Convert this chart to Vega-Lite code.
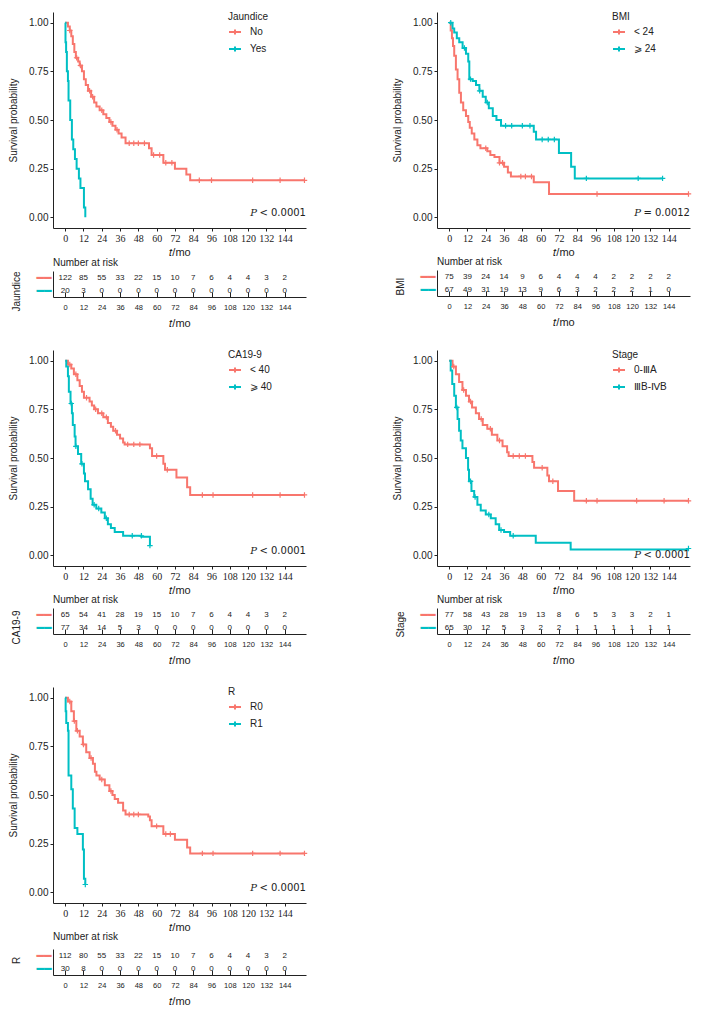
{
"$schema": "https://vega.github.io/schema/vega-lite/v6.json",
"padding": {"left": 8, "top": 12, "right": 5, "bottom": 5},
"config": {
  "view": {"stroke": null},
  "font": "Liberation Sans",
  "axis": {"grid": false, "domainColor": "#222", "tickColor": "#222", "labelColor": "#222", "titleColor": "#222", "titleFontWeight": "normal", "labelFontSize": 10, "titleFontSize": 10, "labelFont": "Liberation Sans", "titleFont": "Liberation Sans", "labelOverlap": false},
  "legend": {"titleFontWeight": "normal", "titleFontSize": 10, "labelFontSize": 10, "titleColor": "#222", "labelColor": "#222", "labelFont": "Liberation Sans", "titleFont": "Liberation Sans"},
  "title": {"fontWeight": "normal", "fontSize": 10, "anchor": "start", "offset": 3, "frame": "group", "color": "#222", "font": "Liberation Sans"}
},
"datasets": {
"km": [
{"panel":"Jaundice","group":"No","t":0,"s":1},{"panel":"Jaundice","group":"No","t":1.8,"s":0.98},{"panel":"Jaundice","group":"No","t":3,"s":0.96},{"panel":"Jaundice","group":"No","t":4,"s":0.93},{"panel":"Jaundice","group":"No","t":5,"s":0.89},{"panel":"Jaundice","group":"No","t":6,"s":0.85},{"panel":"Jaundice","group":"No","t":7,"s":0.82},{"panel":"Jaundice","group":"No","t":8.5,"s":0.8},{"panel":"Jaundice","group":"No","t":9.5,"s":0.78},{"panel":"Jaundice","group":"No","t":11,"s":0.75},{"panel":"Jaundice","group":"No","t":12.3,"s":0.71},{"panel":"Jaundice","group":"No","t":13.5,"s":0.68},{"panel":"Jaundice","group":"No","t":15,"s":0.65},{"panel":"Jaundice","group":"No","t":17,"s":0.62},{"panel":"Jaundice","group":"No","t":19,"s":0.59},{"panel":"Jaundice","group":"No","t":20.5,"s":0.57},{"panel":"Jaundice","group":"No","t":22.6,"s":0.55},{"panel":"Jaundice","group":"No","t":25,"s":0.53},{"panel":"Jaundice","group":"No","t":27,"s":0.51},{"panel":"Jaundice","group":"No","t":29,"s":0.49},{"panel":"Jaundice","group":"No","t":31,"s":0.47},{"panel":"Jaundice","group":"No","t":33,"s":0.45},{"panel":"Jaundice","group":"No","t":35,"s":0.43},{"panel":"Jaundice","group":"No","t":37,"s":0.41},{"panel":"Jaundice","group":"No","t":39.6,"s":0.38},{"panel":"Jaundice","group":"No","t":55,"s":0.355},{"panel":"Jaundice","group":"No","t":56.7,"s":0.32},{"panel":"Jaundice","group":"No","t":64.4,"s":0.28},{"panel":"Jaundice","group":"No","t":72,"s":0.25},{"panel":"Jaundice","group":"No","t":79.5,"s":0.22},{"panel":"Jaundice","group":"No","t":82,"s":0.19},{"panel":"Jaundice","group":"No","t":157,"s":0.19},
{"panel":"Jaundice","group":"Yes","t":0,"s":1},{"panel":"Jaundice","group":"Yes","t":0.2,"s":0.9},{"panel":"Jaundice","group":"Yes","t":0.6,"s":0.85},{"panel":"Jaundice","group":"Yes","t":1.1,"s":0.75},{"panel":"Jaundice","group":"Yes","t":1.8,"s":0.7},{"panel":"Jaundice","group":"Yes","t":2.2,"s":0.6},{"panel":"Jaundice","group":"Yes","t":3.3,"s":0.5},{"panel":"Jaundice","group":"Yes","t":4.4,"s":0.4},{"panel":"Jaundice","group":"Yes","t":5.3,"s":0.35},{"panel":"Jaundice","group":"Yes","t":6.4,"s":0.3},{"panel":"Jaundice","group":"Yes","t":7.5,"s":0.25},{"panel":"Jaundice","group":"Yes","t":9,"s":0.2},{"panel":"Jaundice","group":"Yes","t":10,"s":0.15},{"panel":"Jaundice","group":"Yes","t":12.3,"s":0.05},{"panel":"Jaundice","group":"Yes","t":13.2,"s":0},
{"panel":"BMI","group":"< 24","t":0,"s":1},{"panel":"BMI","group":"< 24","t":1,"s":0.96},{"panel":"BMI","group":"< 24","t":1.8,"s":0.92},{"panel":"BMI","group":"< 24","t":2.5,"s":0.88},{"panel":"BMI","group":"< 24","t":3.3,"s":0.83},{"panel":"BMI","group":"< 24","t":4.4,"s":0.76},{"panel":"BMI","group":"< 24","t":5.5,"s":0.71},{"panel":"BMI","group":"< 24","t":6.6,"s":0.64},{"panel":"BMI","group":"< 24","t":7.7,"s":0.59},{"panel":"BMI","group":"< 24","t":9.2,"s":0.55},{"panel":"BMI","group":"< 24","t":11,"s":0.52},{"panel":"BMI","group":"< 24","t":12.5,"s":0.49},{"panel":"BMI","group":"< 24","t":13.5,"s":0.46},{"panel":"BMI","group":"< 24","t":14.8,"s":0.43},{"panel":"BMI","group":"< 24","t":16.5,"s":0.4},{"panel":"BMI","group":"< 24","t":18.5,"s":0.37},{"panel":"BMI","group":"< 24","t":20.5,"s":0.355},{"panel":"BMI","group":"< 24","t":25,"s":0.34},{"panel":"BMI","group":"< 24","t":27,"s":0.32},{"panel":"BMI","group":"< 24","t":29.7,"s":0.31},{"panel":"BMI","group":"< 24","t":33,"s":0.28},{"panel":"BMI","group":"< 24","t":36,"s":0.26},{"panel":"BMI","group":"< 24","t":38.5,"s":0.23},{"panel":"BMI","group":"< 24","t":40.5,"s":0.21},{"panel":"BMI","group":"< 24","t":55.5,"s":0.18},{"panel":"BMI","group":"< 24","t":65.5,"s":0.12},{"panel":"BMI","group":"< 24","t":157,"s":0.12},
{"panel":"BMI","group":"⩾ 24","t":0,"s":1},{"panel":"BMI","group":"⩾ 24","t":2.2,"s":0.97},{"panel":"BMI","group":"⩾ 24","t":3.3,"s":0.95},{"panel":"BMI","group":"⩾ 24","t":5,"s":0.92},{"panel":"BMI","group":"⩾ 24","t":6.6,"s":0.9},{"panel":"BMI","group":"⩾ 24","t":8.8,"s":0.87},{"panel":"BMI","group":"⩾ 24","t":11,"s":0.84},{"panel":"BMI","group":"⩾ 24","t":12.5,"s":0.8},{"panel":"BMI","group":"⩾ 24","t":13.2,"s":0.71},{"panel":"BMI","group":"⩾ 24","t":15.4,"s":0.7},{"panel":"BMI","group":"⩾ 24","t":17.6,"s":0.68},{"panel":"BMI","group":"⩾ 24","t":19.8,"s":0.65},{"panel":"BMI","group":"⩾ 24","t":22,"s":0.62},{"panel":"BMI","group":"⩾ 24","t":24,"s":0.59},{"panel":"BMI","group":"⩾ 24","t":26,"s":0.56},{"panel":"BMI","group":"⩾ 24","t":28.6,"s":0.52},{"panel":"BMI","group":"⩾ 24","t":31,"s":0.5},{"panel":"BMI","group":"⩾ 24","t":34,"s":0.47},{"panel":"BMI","group":"⩾ 24","t":55.5,"s":0.44},{"panel":"BMI","group":"⩾ 24","t":57,"s":0.4},{"panel":"BMI","group":"⩾ 24","t":72,"s":0.33},{"panel":"BMI","group":"⩾ 24","t":80,"s":0.26},{"panel":"BMI","group":"⩾ 24","t":82.4,"s":0.2},{"panel":"BMI","group":"⩾ 24","t":140,"s":0.2},
{"panel":"CA19-9","group":"< 40","t":0,"s":1},{"panel":"CA19-9","group":"< 40","t":1.8,"s":0.98},{"panel":"CA19-9","group":"< 40","t":4,"s":0.96},{"panel":"CA19-9","group":"< 40","t":5.7,"s":0.93},{"panel":"CA19-9","group":"< 40","t":8,"s":0.9},{"panel":"CA19-9","group":"< 40","t":9.5,"s":0.87},{"panel":"CA19-9","group":"< 40","t":11,"s":0.84},{"panel":"CA19-9","group":"< 40","t":12.3,"s":0.81},{"panel":"CA19-9","group":"< 40","t":16,"s":0.79},{"panel":"CA19-9","group":"< 40","t":17.5,"s":0.77},{"panel":"CA19-9","group":"< 40","t":19,"s":0.75},{"panel":"CA19-9","group":"< 40","t":21.5,"s":0.73},{"panel":"CA19-9","group":"< 40","t":25,"s":0.71},{"panel":"CA19-9","group":"< 40","t":28,"s":0.68},{"panel":"CA19-9","group":"< 40","t":30,"s":0.66},{"panel":"CA19-9","group":"< 40","t":31.5,"s":0.64},{"panel":"CA19-9","group":"< 40","t":34,"s":0.62},{"panel":"CA19-9","group":"< 40","t":36,"s":0.6},{"panel":"CA19-9","group":"< 40","t":38,"s":0.58},{"panel":"CA19-9","group":"< 40","t":39,"s":0.57},{"panel":"CA19-9","group":"< 40","t":55.6,"s":0.55},{"panel":"CA19-9","group":"< 40","t":57,"s":0.51},{"panel":"CA19-9","group":"< 40","t":64.4,"s":0.47},{"panel":"CA19-9","group":"< 40","t":65.5,"s":0.44},{"panel":"CA19-9","group":"< 40","t":73,"s":0.4},{"panel":"CA19-9","group":"< 40","t":80,"s":0.35},{"panel":"CA19-9","group":"< 40","t":82,"s":0.31},{"panel":"CA19-9","group":"< 40","t":157,"s":0.31},
{"panel":"CA19-9","group":"⩾ 40","t":0,"s":1},{"panel":"CA19-9","group":"⩾ 40","t":0.7,"s":0.97},{"panel":"CA19-9","group":"⩾ 40","t":1.8,"s":0.92},{"panel":"CA19-9","group":"⩾ 40","t":2.4,"s":0.84},{"panel":"CA19-9","group":"⩾ 40","t":3.5,"s":0.78},{"panel":"CA19-9","group":"⩾ 40","t":4.4,"s":0.73},{"panel":"CA19-9","group":"⩾ 40","t":5,"s":0.67},{"panel":"CA19-9","group":"⩾ 40","t":6.2,"s":0.61},{"panel":"CA19-9","group":"⩾ 40","t":6.8,"s":0.56},{"panel":"CA19-9","group":"⩾ 40","t":8.4,"s":0.52},{"panel":"CA19-9","group":"⩾ 40","t":10.5,"s":0.47},{"panel":"CA19-9","group":"⩾ 40","t":12.3,"s":0.42},{"panel":"CA19-9","group":"⩾ 40","t":13,"s":0.38},{"panel":"CA19-9","group":"⩾ 40","t":15,"s":0.34},{"panel":"CA19-9","group":"⩾ 40","t":16.7,"s":0.29},{"panel":"CA19-9","group":"⩾ 40","t":18,"s":0.26},{"panel":"CA19-9","group":"⩾ 40","t":20.4,"s":0.24},{"panel":"CA19-9","group":"⩾ 40","t":23.7,"s":0.22},{"panel":"CA19-9","group":"⩾ 40","t":26,"s":0.19},{"panel":"CA19-9","group":"⩾ 40","t":28,"s":0.16},{"panel":"CA19-9","group":"⩾ 40","t":30,"s":0.14},{"panel":"CA19-9","group":"⩾ 40","t":32.5,"s":0.12},{"panel":"CA19-9","group":"⩾ 40","t":38,"s":0.1},{"panel":"CA19-9","group":"⩾ 40","t":50,"s":0.095},{"panel":"CA19-9","group":"⩾ 40","t":55.6,"s":0.05},
{"panel":"Stage","group":"0-ⅢA","t":0,"s":1},{"panel":"Stage","group":"0-ⅢA","t":2.2,"s":0.97},{"panel":"Stage","group":"0-ⅢA","t":4.4,"s":0.93},{"panel":"Stage","group":"0-ⅢA","t":6.5,"s":0.89},{"panel":"Stage","group":"0-ⅢA","t":8.7,"s":0.85},{"panel":"Stage","group":"0-ⅢA","t":11,"s":0.82},{"panel":"Stage","group":"0-ⅢA","t":13,"s":0.79},{"panel":"Stage","group":"0-ⅢA","t":15,"s":0.76},{"panel":"Stage","group":"0-ⅢA","t":17.5,"s":0.73},{"panel":"Stage","group":"0-ⅢA","t":19.6,"s":0.7},{"panel":"Stage","group":"0-ⅢA","t":22,"s":0.67},{"panel":"Stage","group":"0-ⅢA","t":25,"s":0.65},{"panel":"Stage","group":"0-ⅢA","t":28,"s":0.62},{"panel":"Stage","group":"0-ⅢA","t":31.6,"s":0.59},{"panel":"Stage","group":"0-ⅢA","t":35,"s":0.56},{"panel":"Stage","group":"0-ⅢA","t":38,"s":0.53},{"panel":"Stage","group":"0-ⅢA","t":39,"s":0.51},{"panel":"Stage","group":"0-ⅢA","t":54.6,"s":0.48},{"panel":"Stage","group":"0-ⅢA","t":55.7,"s":0.45},{"panel":"Stage","group":"0-ⅢA","t":64.4,"s":0.41},{"panel":"Stage","group":"0-ⅢA","t":65.5,"s":0.38},{"panel":"Stage","group":"0-ⅢA","t":71.4,"s":0.33},{"panel":"Stage","group":"0-ⅢA","t":82,"s":0.28},{"panel":"Stage","group":"0-ⅢA","t":157,"s":0.28},
{"panel":"Stage","group":"ⅢB-ⅣB","t":0,"s":1},{"panel":"Stage","group":"ⅢB-ⅣB","t":1,"s":0.95},{"panel":"Stage","group":"ⅢB-ⅣB","t":2,"s":0.88},{"panel":"Stage","group":"ⅢB-ⅣB","t":3.3,"s":0.82},{"panel":"Stage","group":"ⅢB-ⅣB","t":4.4,"s":0.76},{"panel":"Stage","group":"ⅢB-ⅣB","t":5.5,"s":0.7},{"panel":"Stage","group":"ⅢB-ⅣB","t":6.5,"s":0.64},{"panel":"Stage","group":"ⅢB-ⅣB","t":7.6,"s":0.59},{"panel":"Stage","group":"ⅢB-ⅣB","t":8.7,"s":0.55},{"panel":"Stage","group":"ⅢB-ⅣB","t":11,"s":0.5},{"panel":"Stage","group":"ⅢB-ⅣB","t":12.4,"s":0.44},{"panel":"Stage","group":"ⅢB-ⅣB","t":13,"s":0.38},{"panel":"Stage","group":"ⅢB-ⅣB","t":14.6,"s":0.33},{"panel":"Stage","group":"ⅢB-ⅣB","t":16.4,"s":0.3},{"panel":"Stage","group":"ⅢB-ⅣB","t":18.5,"s":0.26},{"panel":"Stage","group":"ⅢB-ⅣB","t":20.7,"s":0.23},{"panel":"Stage","group":"ⅢB-ⅣB","t":24,"s":0.21},{"panel":"Stage","group":"ⅢB-ⅣB","t":27.3,"s":0.19},{"panel":"Stage","group":"ⅢB-ⅣB","t":30.5,"s":0.16},{"panel":"Stage","group":"ⅢB-ⅣB","t":32.8,"s":0.13},{"panel":"Stage","group":"ⅢB-ⅣB","t":36,"s":0.12},{"panel":"Stage","group":"ⅢB-ⅣB","t":40,"s":0.1},{"panel":"Stage","group":"ⅢB-ⅣB","t":56.8,"s":0.065},{"panel":"Stage","group":"ⅢB-ⅣB","t":79.7,"s":0.03},{"panel":"Stage","group":"ⅢB-ⅣB","t":157,"s":0.03},
{"panel":"R","group":"R0","t":0,"s":1},{"panel":"R","group":"R0","t":1.8,"s":0.98},{"panel":"R","group":"R0","t":4,"s":0.93},{"panel":"R","group":"R0","t":5.7,"s":0.88},{"panel":"R","group":"R0","t":7.3,"s":0.83},{"panel":"R","group":"R0","t":9.5,"s":0.8},{"panel":"R","group":"R0","t":11.6,"s":0.76},{"panel":"R","group":"R0","t":13.8,"s":0.72},{"panel":"R","group":"R0","t":16,"s":0.69},{"panel":"R","group":"R0","t":18.2,"s":0.66},{"panel":"R","group":"R0","t":19.5,"s":0.62},{"panel":"R","group":"R0","t":20.5,"s":0.6},{"panel":"R","group":"R0","t":22.6,"s":0.58},{"panel":"R","group":"R0","t":26,"s":0.55},{"panel":"R","group":"R0","t":29,"s":0.52},{"panel":"R","group":"R0","t":31,"s":0.5},{"panel":"R","group":"R0","t":32.5,"s":0.48},{"panel":"R","group":"R0","t":34.7,"s":0.46},{"panel":"R","group":"R0","t":38,"s":0.42},{"panel":"R","group":"R0","t":39.6,"s":0.4},{"panel":"R","group":"R0","t":54.5,"s":0.39},{"panel":"R","group":"R0","t":55.6,"s":0.37},{"panel":"R","group":"R0","t":56.7,"s":0.34},{"panel":"R","group":"R0","t":64.4,"s":0.3},{"panel":"R","group":"R0","t":72,"s":0.27},{"panel":"R","group":"R0","t":80,"s":0.23},{"panel":"R","group":"R0","t":82,"s":0.2},{"panel":"R","group":"R0","t":157,"s":0.2},
{"panel":"R","group":"R1","t":0,"s":1},{"panel":"R","group":"R1","t":0.3,"s":0.93},{"panel":"R","group":"R1","t":0.7,"s":0.87},{"panel":"R","group":"R1","t":1.8,"s":0.83},{"panel":"R","group":"R1","t":2.2,"s":0.6},{"panel":"R","group":"R1","t":4,"s":0.53},{"panel":"R","group":"R1","t":5,"s":0.43},{"panel":"R","group":"R1","t":6.2,"s":0.33},{"panel":"R","group":"R1","t":8,"s":0.3},{"panel":"R","group":"R1","t":11.6,"s":0.22},{"panel":"R","group":"R1","t":12.3,"s":0.07},{"panel":"R","group":"R1","t":13.2,"s":0.04}
],
"cens": [
{"panel":"Jaundice","group":"No","t":3,"s":0.96},{"panel":"Jaundice","group":"No","t":7.5,"s":0.82},{"panel":"Jaundice","group":"No","t":10,"s":0.78},{"panel":"Jaundice","group":"No","t":16,"s":0.65},{"panel":"Jaundice","group":"No","t":18,"s":0.62},{"panel":"Jaundice","group":"No","t":24,"s":0.55},{"panel":"Jaundice","group":"No","t":30,"s":0.49},{"panel":"Jaundice","group":"No","t":34,"s":0.45},{"panel":"Jaundice","group":"No","t":42,"s":0.38},{"panel":"Jaundice","group":"No","t":45,"s":0.38},{"panel":"Jaundice","group":"No","t":48,"s":0.38},{"panel":"Jaundice","group":"No","t":52,"s":0.38},{"panel":"Jaundice","group":"No","t":58,"s":0.32},{"panel":"Jaundice","group":"No","t":62,"s":0.32},{"panel":"Jaundice","group":"No","t":66,"s":0.28},{"panel":"Jaundice","group":"No","t":70,"s":0.28},{"panel":"Jaundice","group":"No","t":88,"s":0.19},{"panel":"Jaundice","group":"No","t":96,"s":0.19},{"panel":"Jaundice","group":"No","t":123,"s":0.19},{"panel":"Jaundice","group":"No","t":141,"s":0.19},{"panel":"Jaundice","group":"No","t":157,"s":0.19},
{"panel":"BMI","group":"< 24","t":24,"s":0.355},{"panel":"BMI","group":"< 24","t":33,"s":0.28},{"panel":"BMI","group":"< 24","t":35,"s":0.28},{"panel":"BMI","group":"< 24","t":47,"s":0.21},{"panel":"BMI","group":"< 24","t":50,"s":0.21},{"panel":"BMI","group":"< 24","t":54,"s":0.21},{"panel":"BMI","group":"< 24","t":97,"s":0.12},{"panel":"BMI","group":"< 24","t":157,"s":0.12},
{"panel":"BMI","group":"⩾ 24","t":1,"s":1},{"panel":"BMI","group":"⩾ 24","t":10,"s":0.87},{"panel":"BMI","group":"⩾ 24","t":14,"s":0.71},{"panel":"BMI","group":"⩾ 24","t":20,"s":0.65},{"panel":"BMI","group":"⩾ 24","t":25,"s":0.59},{"panel":"BMI","group":"⩾ 24","t":37,"s":0.47},{"panel":"BMI","group":"⩾ 24","t":41,"s":0.47},{"panel":"BMI","group":"⩾ 24","t":48,"s":0.47},{"panel":"BMI","group":"⩾ 24","t":53,"s":0.47},{"panel":"BMI","group":"⩾ 24","t":61,"s":0.4},{"panel":"BMI","group":"⩾ 24","t":65,"s":0.4},{"panel":"BMI","group":"⩾ 24","t":69,"s":0.4},{"panel":"BMI","group":"⩾ 24","t":90,"s":0.2},{"panel":"BMI","group":"⩾ 24","t":124,"s":0.2},{"panel":"BMI","group":"⩾ 24","t":140,"s":0.2},
{"panel":"CA19-9","group":"< 40","t":3,"s":0.98},{"panel":"CA19-9","group":"< 40","t":7,"s":0.93},{"panel":"CA19-9","group":"< 40","t":14,"s":0.81},{"panel":"CA19-9","group":"< 40","t":20,"s":0.75},{"panel":"CA19-9","group":"< 40","t":24,"s":0.73},{"panel":"CA19-9","group":"< 40","t":27,"s":0.71},{"panel":"CA19-9","group":"< 40","t":33,"s":0.64},{"panel":"CA19-9","group":"< 40","t":41,"s":0.57},{"panel":"CA19-9","group":"< 40","t":45,"s":0.57},{"panel":"CA19-9","group":"< 40","t":49,"s":0.57},{"panel":"CA19-9","group":"< 40","t":60,"s":0.51},{"panel":"CA19-9","group":"< 40","t":67,"s":0.44},{"panel":"CA19-9","group":"< 40","t":90,"s":0.31},{"panel":"CA19-9","group":"< 40","t":97,"s":0.31},{"panel":"CA19-9","group":"< 40","t":123,"s":0.31},{"panel":"CA19-9","group":"< 40","t":141,"s":0.31},{"panel":"CA19-9","group":"< 40","t":157,"s":0.31},
{"panel":"CA19-9","group":"⩾ 40","t":4,"s":0.78},{"panel":"CA19-9","group":"⩾ 40","t":7,"s":0.56},{"panel":"CA19-9","group":"⩾ 40","t":11,"s":0.47},{"panel":"CA19-9","group":"⩾ 40","t":19,"s":0.26},{"panel":"CA19-9","group":"⩾ 40","t":22,"s":0.24},{"panel":"CA19-9","group":"⩾ 40","t":27,"s":0.19},{"panel":"CA19-9","group":"⩾ 40","t":44,"s":0.1},{"panel":"CA19-9","group":"⩾ 40","t":50,"s":0.1},{"panel":"CA19-9","group":"⩾ 40","t":55.6,"s":0.05},
{"panel":"Stage","group":"0-ⅢA","t":3,"s":0.97},{"panel":"Stage","group":"0-ⅢA","t":9.5,"s":0.85},{"panel":"Stage","group":"0-ⅢA","t":14,"s":0.79},{"panel":"Stage","group":"0-ⅢA","t":21,"s":0.7},{"panel":"Stage","group":"0-ⅢA","t":27,"s":0.65},{"panel":"Stage","group":"0-ⅢA","t":33,"s":0.59},{"panel":"Stage","group":"0-ⅢA","t":42,"s":0.51},{"panel":"Stage","group":"0-ⅢA","t":46,"s":0.51},{"panel":"Stage","group":"0-ⅢA","t":50,"s":0.51},{"panel":"Stage","group":"0-ⅢA","t":61,"s":0.45},{"panel":"Stage","group":"0-ⅢA","t":68,"s":0.38},{"panel":"Stage","group":"0-ⅢA","t":90,"s":0.28},{"panel":"Stage","group":"0-ⅢA","t":97,"s":0.28},{"panel":"Stage","group":"0-ⅢA","t":123,"s":0.28},{"panel":"Stage","group":"0-ⅢA","t":141,"s":0.28},{"panel":"Stage","group":"0-ⅢA","t":157,"s":0.28},
{"panel":"Stage","group":"ⅢB-ⅣB","t":5,"s":0.76},{"panel":"Stage","group":"ⅢB-ⅣB","t":14,"s":0.38},{"panel":"Stage","group":"ⅢB-ⅣB","t":17,"s":0.3},{"panel":"Stage","group":"ⅢB-ⅣB","t":26,"s":0.21},{"panel":"Stage","group":"ⅢB-ⅣB","t":34,"s":0.13},{"panel":"Stage","group":"ⅢB-ⅣB","t":42,"s":0.1},{"panel":"Stage","group":"ⅢB-ⅣB","t":157,"s":0.035},
{"panel":"R","group":"R0","t":3,"s":0.98},{"panel":"R","group":"R0","t":6,"s":0.88},{"panel":"R","group":"R0","t":8,"s":0.83},{"panel":"R","group":"R0","t":12,"s":0.76},{"panel":"R","group":"R0","t":17,"s":0.69},{"panel":"R","group":"R0","t":24,"s":0.58},{"panel":"R","group":"R0","t":30,"s":0.52},{"panel":"R","group":"R0","t":42,"s":0.4},{"panel":"R","group":"R0","t":45,"s":0.4},{"panel":"R","group":"R0","t":48,"s":0.4},{"panel":"R","group":"R0","t":60,"s":0.34},{"panel":"R","group":"R0","t":66,"s":0.3},{"panel":"R","group":"R0","t":69,"s":0.3},{"panel":"R","group":"R0","t":90,"s":0.2},{"panel":"R","group":"R0","t":97,"s":0.2},{"panel":"R","group":"R0","t":123,"s":0.2},{"panel":"R","group":"R0","t":141,"s":0.2},{"panel":"R","group":"R0","t":157,"s":0.2},
{"panel":"R","group":"R1","t":13.2,"s":0.04}
],
"risk": [
{"panel":"Jaundice","group":"No","t":0,"n":122},{"panel":"Jaundice","group":"No","t":12,"n":85},{"panel":"Jaundice","group":"No","t":24,"n":55},{"panel":"Jaundice","group":"No","t":36,"n":33},{"panel":"Jaundice","group":"No","t":48,"n":22},{"panel":"Jaundice","group":"No","t":60,"n":15},{"panel":"Jaundice","group":"No","t":72,"n":10},{"panel":"Jaundice","group":"No","t":84,"n":7},{"panel":"Jaundice","group":"No","t":96,"n":6},{"panel":"Jaundice","group":"No","t":108,"n":4},{"panel":"Jaundice","group":"No","t":120,"n":4},{"panel":"Jaundice","group":"No","t":132,"n":3},{"panel":"Jaundice","group":"No","t":144,"n":2},
{"panel":"Jaundice","group":"Yes","t":0,"n":20},{"panel":"Jaundice","group":"Yes","t":12,"n":3},{"panel":"Jaundice","group":"Yes","t":24,"n":0},{"panel":"Jaundice","group":"Yes","t":36,"n":0},{"panel":"Jaundice","group":"Yes","t":48,"n":0},{"panel":"Jaundice","group":"Yes","t":60,"n":0},{"panel":"Jaundice","group":"Yes","t":72,"n":0},{"panel":"Jaundice","group":"Yes","t":84,"n":0},{"panel":"Jaundice","group":"Yes","t":96,"n":0},{"panel":"Jaundice","group":"Yes","t":108,"n":0},{"panel":"Jaundice","group":"Yes","t":120,"n":0},{"panel":"Jaundice","group":"Yes","t":132,"n":0},{"panel":"Jaundice","group":"Yes","t":144,"n":0},
{"panel":"BMI","group":"< 24","t":0,"n":75},{"panel":"BMI","group":"< 24","t":12,"n":39},{"panel":"BMI","group":"< 24","t":24,"n":24},{"panel":"BMI","group":"< 24","t":36,"n":14},{"panel":"BMI","group":"< 24","t":48,"n":9},{"panel":"BMI","group":"< 24","t":60,"n":6},{"panel":"BMI","group":"< 24","t":72,"n":4},{"panel":"BMI","group":"< 24","t":84,"n":4},{"panel":"BMI","group":"< 24","t":96,"n":4},{"panel":"BMI","group":"< 24","t":108,"n":2},{"panel":"BMI","group":"< 24","t":120,"n":2},{"panel":"BMI","group":"< 24","t":132,"n":2},{"panel":"BMI","group":"< 24","t":144,"n":2},
{"panel":"BMI","group":"⩾ 24","t":0,"n":67},{"panel":"BMI","group":"⩾ 24","t":12,"n":49},{"panel":"BMI","group":"⩾ 24","t":24,"n":31},{"panel":"BMI","group":"⩾ 24","t":36,"n":19},{"panel":"BMI","group":"⩾ 24","t":48,"n":13},{"panel":"BMI","group":"⩾ 24","t":60,"n":9},{"panel":"BMI","group":"⩾ 24","t":72,"n":6},{"panel":"BMI","group":"⩾ 24","t":84,"n":3},{"panel":"BMI","group":"⩾ 24","t":96,"n":2},{"panel":"BMI","group":"⩾ 24","t":108,"n":2},{"panel":"BMI","group":"⩾ 24","t":120,"n":2},{"panel":"BMI","group":"⩾ 24","t":132,"n":1},{"panel":"BMI","group":"⩾ 24","t":144,"n":0},
{"panel":"CA19-9","group":"< 40","t":0,"n":65},{"panel":"CA19-9","group":"< 40","t":12,"n":54},{"panel":"CA19-9","group":"< 40","t":24,"n":41},{"panel":"CA19-9","group":"< 40","t":36,"n":28},{"panel":"CA19-9","group":"< 40","t":48,"n":19},{"panel":"CA19-9","group":"< 40","t":60,"n":15},{"panel":"CA19-9","group":"< 40","t":72,"n":10},{"panel":"CA19-9","group":"< 40","t":84,"n":7},{"panel":"CA19-9","group":"< 40","t":96,"n":6},{"panel":"CA19-9","group":"< 40","t":108,"n":4},{"panel":"CA19-9","group":"< 40","t":120,"n":4},{"panel":"CA19-9","group":"< 40","t":132,"n":3},{"panel":"CA19-9","group":"< 40","t":144,"n":2},
{"panel":"CA19-9","group":"⩾ 40","t":0,"n":77},{"panel":"CA19-9","group":"⩾ 40","t":12,"n":34},{"panel":"CA19-9","group":"⩾ 40","t":24,"n":14},{"panel":"CA19-9","group":"⩾ 40","t":36,"n":5},{"panel":"CA19-9","group":"⩾ 40","t":48,"n":3},{"panel":"CA19-9","group":"⩾ 40","t":60,"n":0},{"panel":"CA19-9","group":"⩾ 40","t":72,"n":0},{"panel":"CA19-9","group":"⩾ 40","t":84,"n":0},{"panel":"CA19-9","group":"⩾ 40","t":96,"n":0},{"panel":"CA19-9","group":"⩾ 40","t":108,"n":0},{"panel":"CA19-9","group":"⩾ 40","t":120,"n":0},{"panel":"CA19-9","group":"⩾ 40","t":132,"n":0},{"panel":"CA19-9","group":"⩾ 40","t":144,"n":0},
{"panel":"Stage","group":"0-ⅢA","t":0,"n":77},{"panel":"Stage","group":"0-ⅢA","t":12,"n":58},{"panel":"Stage","group":"0-ⅢA","t":24,"n":43},{"panel":"Stage","group":"0-ⅢA","t":36,"n":28},{"panel":"Stage","group":"0-ⅢA","t":48,"n":19},{"panel":"Stage","group":"0-ⅢA","t":60,"n":13},{"panel":"Stage","group":"0-ⅢA","t":72,"n":8},{"panel":"Stage","group":"0-ⅢA","t":84,"n":6},{"panel":"Stage","group":"0-ⅢA","t":96,"n":5},{"panel":"Stage","group":"0-ⅢA","t":108,"n":3},{"panel":"Stage","group":"0-ⅢA","t":120,"n":3},{"panel":"Stage","group":"0-ⅢA","t":132,"n":2},{"panel":"Stage","group":"0-ⅢA","t":144,"n":1},
{"panel":"Stage","group":"ⅢB-ⅣB","t":0,"n":65},{"panel":"Stage","group":"ⅢB-ⅣB","t":12,"n":30},{"panel":"Stage","group":"ⅢB-ⅣB","t":24,"n":12},{"panel":"Stage","group":"ⅢB-ⅣB","t":36,"n":5},{"panel":"Stage","group":"ⅢB-ⅣB","t":48,"n":3},{"panel":"Stage","group":"ⅢB-ⅣB","t":60,"n":2},{"panel":"Stage","group":"ⅢB-ⅣB","t":72,"n":2},{"panel":"Stage","group":"ⅢB-ⅣB","t":84,"n":1},{"panel":"Stage","group":"ⅢB-ⅣB","t":96,"n":1},{"panel":"Stage","group":"ⅢB-ⅣB","t":108,"n":1},{"panel":"Stage","group":"ⅢB-ⅣB","t":120,"n":1},{"panel":"Stage","group":"ⅢB-ⅣB","t":132,"n":1},{"panel":"Stage","group":"ⅢB-ⅣB","t":144,"n":1},
{"panel":"R","group":"R0","t":0,"n":112},{"panel":"R","group":"R0","t":12,"n":80},{"panel":"R","group":"R0","t":24,"n":55},{"panel":"R","group":"R0","t":36,"n":33},{"panel":"R","group":"R0","t":48,"n":22},{"panel":"R","group":"R0","t":60,"n":15},{"panel":"R","group":"R0","t":72,"n":10},{"panel":"R","group":"R0","t":84,"n":7},{"panel":"R","group":"R0","t":96,"n":6},{"panel":"R","group":"R0","t":108,"n":4},{"panel":"R","group":"R0","t":120,"n":4},{"panel":"R","group":"R0","t":132,"n":3},{"panel":"R","group":"R0","t":144,"n":2},
{"panel":"R","group":"R1","t":0,"n":30},{"panel":"R","group":"R1","t":12,"n":8},{"panel":"R","group":"R1","t":24,"n":0},{"panel":"R","group":"R1","t":36,"n":0},{"panel":"R","group":"R1","t":48,"n":0},{"panel":"R","group":"R1","t":60,"n":0},{"panel":"R","group":"R1","t":72,"n":0},{"panel":"R","group":"R1","t":84,"n":0},{"panel":"R","group":"R1","t":96,"n":0},{"panel":"R","group":"R1","t":108,"n":0},{"panel":"R","group":"R1","t":120,"n":0},{"panel":"R","group":"R1","t":132,"n":0},{"panel":"R","group":"R1","t":144,"n":0}
],
"pv": [
{"panel":"Jaundice","label":"< 0.0001"},{"panel":"BMI","label":"= 0.0012"},{"panel":"CA19-9","label":"< 0.0001"},{"panel":"Stage","label":"< 0.0001"},{"panel":"R","label":"< 0.0001"}
]
},
"resolve": {"scale": {"color": "independent"}, "legend": {"color": "independent"}},
"spacing": 21,
"vconcat": [
{"hconcat": [
 {"spacing": 0, "vconcat": [
  {"width": 253, "height": 216, "resolve": {"axis": {"x": "independent", "y": "independent"}}, "layer": [
   {"data": {"name": "km"}, "transform": [{"filter": "datum.panel == 'Jaundice'"}], "mark": {"type": "line", "interpolate": "step-after", "strokeWidth": 2},
    "encoding": {"x": {"field": "t", "type": "quantitative", "scale": {"domain": [-8, 158], "nice": false, "zero": false}, "axis": {"values": [0,12,24,36,48,60,72,84,96,108,120,132,144], "labelOverlap": false, "title": "𝑡/mo", "labelFont": "Liberation Serif", "tickSize": 3, "labelPadding": 2, "titlePadding": 3, "titleFontSize": 11}},
     "y": {"field": "s", "type": "quantitative", "scale": {"domain": [-0.055, 1.055], "nice": false, "zero": false}, "axis": {"values": [0,0.25,0.5,0.75,1], "format": ".2f", "title": "Survival probability", "tickSize": 3, "labelPadding": 2, "titlePadding": 10}},
     "color": {"field": "group", "type": "nominal", "scale": {"domain": ["No","Yes"], "range": ["#F8766D","#00BFC4"]}, "legend": {"title": "Jaundice", "orient": "none", "legendX": 175, "legendY": 0, "symbolType": "M-1,0L1,0M0,-0.4L0,0.4", "symbolSize": 144, "symbolStrokeWidth": 2, "rowPadding": 3, "titlePadding": 3, "labelOffset": 8}}}},
   {"data": {"name": "cens"}, "transform": [{"filter": "datum.panel == 'Jaundice'"}], "mark": {"type": "point", "shape": "M-1,0L1,0M0,-1L0,1", "filled": false, "size": 30, "strokeWidth": 1.2, "opacity": 1},
    "encoding": {"x": {"field": "t", "type": "quantitative", "axis": null}, "y": {"field": "s", "type": "quantitative", "axis": null}, "color": {"field": "group", "type": "nominal"}}},
   {"data": {"name": "pv"}, "transform": [{"filter": "datum.panel == 'Jaundice'"}], "mark": {"type": "text", "align": "right", "baseline": "middle", "fontSize": 10, "font": "DejaVu Sans", "color": "#222"},
    "encoding": {"x": {"datum": 158, "type": "quantitative", "axis": null}, "y": {"datum": 0.02, "type": "quantitative", "axis": null}, "text": {"field": "label"}}},
   {"data": {"name": "pv"}, "transform": [{"filter": "datum.panel == 'Jaundice'"}], "mark": {"type": "text", "align": "right", "baseline": "middle", "fontSize": 10, "font": "DejaVu Serif", "fontStyle": "italic", "dx": -49, "color": "#222"},
    "encoding": {"x": {"datum": 158, "type": "quantitative", "axis": null}, "y": {"datum": 0.02, "type": "quantitative", "axis": null}, "text": {"value": "P"}}}
  ]},
  {"width": 253, "height": 26, "title": "Number at risk", "data": {"name": "risk"}, "transform": [{"filter": "datum.panel == 'Jaundice'"}],
   "mark": {"type": "text", "fontSize": 8, "color": "#222"},
   "encoding": {"x": {"field": "t", "type": "quantitative", "scale": {"domain": [-8, 158], "nice": false, "zero": false}, "axis": {"values": [0,12,24,36,48,60,72,84,96,108,120,132,144], "labelOverlap": false, "title": "𝑡/mo", "tickSize": -5, "labelPadding": 11, "labelFontSize": 7.5, "titlePadding": 7, "titleFontSize": 11}},
    "y": {"field": "group", "type": "nominal", "scale": {"domain": ["No","Yes"]}, "axis": {"title": "Jaundice", "titleY": 20, "labelExpr": "'━━'", "labelColor": {"condition": {"test": "indexof(['No','< 24','< 40','0-ⅢA','R0'], datum.value) >= 0", "value": "#F8766D"}, "value": "#00BFC4"}, "ticks": false, "labelPadding": 2, "labelFontSize": 12.5, "labelFont": "DejaVu Sans", "titlePadding": 14}},
    "text": {"field": "n", "type": "quantitative"}}}
 ]},
 {"spacing": 0, "vconcat": [
  {"width": 253, "height": 216, "resolve": {"axis": {"x": "independent", "y": "independent"}}, "layer": [
   {"data": {"name": "km"}, "transform": [{"filter": "datum.panel == 'BMI'"}], "mark": {"type": "line", "interpolate": "step-after", "strokeWidth": 2},
    "encoding": {"x": {"field": "t", "type": "quantitative", "scale": {"domain": [-8, 158], "nice": false, "zero": false}, "axis": {"values": [0,12,24,36,48,60,72,84,96,108,120,132,144], "labelOverlap": false, "title": "𝑡/mo", "labelFont": "Liberation Serif", "tickSize": 3, "labelPadding": 2, "titlePadding": 3, "titleFontSize": 11}},
     "y": {"field": "s", "type": "quantitative", "scale": {"domain": [-0.055, 1.055], "nice": false, "zero": false}, "axis": {"values": [0,0.25,0.5,0.75,1], "format": ".2f", "title": "Survival probability", "tickSize": 3, "labelPadding": 2, "titlePadding": 10}},
     "color": {"field": "group", "type": "nominal", "scale": {"domain": ["< 24","⩾ 24"], "range": ["#F8766D","#00BFC4"]}, "legend": {"title": "BMI", "orient": "none", "legendX": 175, "legendY": 0, "symbolType": "M-1,0L1,0M0,-0.4L0,0.4", "symbolSize": 144, "symbolStrokeWidth": 2, "rowPadding": 3, "titlePadding": 3, "labelOffset": 8}}}},
   {"data": {"name": "cens"}, "transform": [{"filter": "datum.panel == 'BMI'"}], "mark": {"type": "point", "shape": "M-1,0L1,0M0,-1L0,1", "filled": false, "size": 30, "strokeWidth": 1.2, "opacity": 1},
    "encoding": {"x": {"field": "t", "type": "quantitative", "axis": null}, "y": {"field": "s", "type": "quantitative", "axis": null}, "color": {"field": "group", "type": "nominal"}}},
   {"data": {"name": "pv"}, "transform": [{"filter": "datum.panel == 'BMI'"}], "mark": {"type": "text", "align": "right", "baseline": "middle", "fontSize": 10, "font": "DejaVu Sans", "color": "#222"},
    "encoding": {"x": {"datum": 158, "type": "quantitative", "axis": null}, "y": {"datum": 0.02, "type": "quantitative", "axis": null}, "text": {"field": "label"}}},
   {"data": {"name": "pv"}, "transform": [{"filter": "datum.panel == 'BMI'"}], "mark": {"type": "text", "align": "right", "baseline": "middle", "fontSize": 10, "font": "DejaVu Serif", "fontStyle": "italic", "dx": -49, "color": "#222"},
    "encoding": {"x": {"datum": 158, "type": "quantitative", "axis": null}, "y": {"datum": 0.02, "type": "quantitative", "axis": null}, "text": {"value": "P"}}}
  ]},
  {"width": 253, "height": 26, "title": "Number at risk", "data": {"name": "risk"}, "transform": [{"filter": "datum.panel == 'BMI'"}],
   "mark": {"type": "text", "fontSize": 8, "color": "#222"},
   "encoding": {"x": {"field": "t", "type": "quantitative", "scale": {"domain": [-8, 158], "nice": false, "zero": false}, "axis": {"values": [0,12,24,36,48,60,72,84,96,108,120,132,144], "labelOverlap": false, "title": "𝑡/mo", "tickSize": -5, "labelPadding": 11, "labelFontSize": 7.5, "titlePadding": 7, "titleFontSize": 11}},
    "y": {"field": "group", "type": "nominal", "scale": {"domain": ["< 24","⩾ 24"]}, "axis": {"title": "BMI", "titleY": 16, "labelExpr": "'━━'", "labelColor": {"condition": {"test": "indexof(['No','< 24','< 40','0-ⅢA','R0'], datum.value) >= 0", "value": "#F8766D"}, "value": "#00BFC4"}, "ticks": false, "labelPadding": 2, "labelFontSize": 12.5, "labelFont": "DejaVu Sans", "titlePadding": 14}},
    "text": {"field": "n", "type": "quantitative"}}}
 ]}
], "spacing": 82, "resolve": {"scale": {"color": "independent"}, "legend": {"color": "independent"}}},
{"hconcat": [
 {"spacing": 0, "vconcat": [
  {"width": 253, "height": 216, "resolve": {"axis": {"x": "independent", "y": "independent"}}, "layer": [
   {"data": {"name": "km"}, "transform": [{"filter": "datum.panel == 'CA19-9'"}], "mark": {"type": "line", "interpolate": "step-after", "strokeWidth": 2},
    "encoding": {"x": {"field": "t", "type": "quantitative", "scale": {"domain": [-8, 158], "nice": false, "zero": false}, "axis": {"values": [0,12,24,36,48,60,72,84,96,108,120,132,144], "labelOverlap": false, "title": "𝑡/mo", "labelFont": "Liberation Serif", "tickSize": 3, "labelPadding": 2, "titlePadding": 3, "titleFontSize": 11}},
     "y": {"field": "s", "type": "quantitative", "scale": {"domain": [-0.055, 1.055], "nice": false, "zero": false}, "axis": {"values": [0,0.25,0.5,0.75,1], "format": ".2f", "title": "Survival probability", "tickSize": 3, "labelPadding": 2, "titlePadding": 10}},
     "color": {"field": "group", "type": "nominal", "scale": {"domain": ["< 40","⩾ 40"], "range": ["#F8766D","#00BFC4"]}, "legend": {"title": "CA19-9", "orient": "none", "legendX": 175, "legendY": 0, "symbolType": "M-1,0L1,0M0,-0.4L0,0.4", "symbolSize": 144, "symbolStrokeWidth": 2, "rowPadding": 3, "titlePadding": 3, "labelOffset": 8}}}},
   {"data": {"name": "cens"}, "transform": [{"filter": "datum.panel == 'CA19-9'"}], "mark": {"type": "point", "shape": "M-1,0L1,0M0,-1L0,1", "filled": false, "size": 30, "strokeWidth": 1.2, "opacity": 1},
    "encoding": {"x": {"field": "t", "type": "quantitative", "axis": null}, "y": {"field": "s", "type": "quantitative", "axis": null}, "color": {"field": "group", "type": "nominal"}}},
   {"data": {"name": "pv"}, "transform": [{"filter": "datum.panel == 'CA19-9'"}], "mark": {"type": "text", "align": "right", "baseline": "middle", "fontSize": 10, "font": "DejaVu Sans", "color": "#222"},
    "encoding": {"x": {"datum": 158, "type": "quantitative", "axis": null}, "y": {"datum": 0.02, "type": "quantitative", "axis": null}, "text": {"field": "label"}}},
   {"data": {"name": "pv"}, "transform": [{"filter": "datum.panel == 'CA19-9'"}], "mark": {"type": "text", "align": "right", "baseline": "middle", "fontSize": 10, "font": "DejaVu Serif", "fontStyle": "italic", "dx": -49, "color": "#222"},
    "encoding": {"x": {"datum": 158, "type": "quantitative", "axis": null}, "y": {"datum": 0.02, "type": "quantitative", "axis": null}, "text": {"value": "P"}}}
  ]},
  {"width": 253, "height": 26, "title": "Number at risk", "data": {"name": "risk"}, "transform": [{"filter": "datum.panel == 'CA19-9'"}],
   "mark": {"type": "text", "fontSize": 8, "color": "#222"},
   "encoding": {"x": {"field": "t", "type": "quantitative", "scale": {"domain": [-8, 158], "nice": false, "zero": false}, "axis": {"values": [0,12,24,36,48,60,72,84,96,108,120,132,144], "labelOverlap": false, "title": "𝑡/mo", "tickSize": -5, "labelPadding": 11, "labelFontSize": 7.5, "titlePadding": 7, "titleFontSize": 11}},
    "y": {"field": "group", "type": "nominal", "scale": {"domain": ["< 40","⩾ 40"]}, "axis": {"title": "CA19-9", "titleY": 19, "labelExpr": "'━━'", "labelColor": {"condition": {"test": "indexof(['No','< 24','< 40','0-ⅢA','R0'], datum.value) >= 0", "value": "#F8766D"}, "value": "#00BFC4"}, "ticks": false, "labelPadding": 2, "labelFontSize": 12.5, "labelFont": "DejaVu Sans", "titlePadding": 14}},
    "text": {"field": "n", "type": "quantitative"}}}
 ]},
 {"spacing": 0, "vconcat": [
  {"width": 253, "height": 216, "resolve": {"axis": {"x": "independent", "y": "independent"}}, "layer": [
   {"data": {"name": "km"}, "transform": [{"filter": "datum.panel == 'Stage'"}], "mark": {"type": "line", "interpolate": "step-after", "strokeWidth": 2},
    "encoding": {"x": {"field": "t", "type": "quantitative", "scale": {"domain": [-8, 158], "nice": false, "zero": false}, "axis": {"values": [0,12,24,36,48,60,72,84,96,108,120,132,144], "labelOverlap": false, "title": "𝑡/mo", "labelFont": "Liberation Serif", "tickSize": 3, "labelPadding": 2, "titlePadding": 3, "titleFontSize": 11}},
     "y": {"field": "s", "type": "quantitative", "scale": {"domain": [-0.055, 1.055], "nice": false, "zero": false}, "axis": {"values": [0,0.25,0.5,0.75,1], "format": ".2f", "title": "Survival probability", "tickSize": 3, "labelPadding": 2, "titlePadding": 10}},
     "color": {"field": "group", "type": "nominal", "scale": {"domain": ["0-ⅢA","ⅢB-ⅣB"], "range": ["#F8766D","#00BFC4"]}, "legend": {"title": "Stage", "orient": "none", "legendX": 175, "legendY": 0, "symbolType": "M-1,0L1,0M0,-0.4L0,0.4", "symbolSize": 144, "symbolStrokeWidth": 2, "rowPadding": 3, "titlePadding": 3, "labelOffset": 8}}}},
   {"data": {"name": "cens"}, "transform": [{"filter": "datum.panel == 'Stage'"}], "mark": {"type": "point", "shape": "M-1,0L1,0M0,-1L0,1", "filled": false, "size": 30, "strokeWidth": 1.2, "opacity": 1},
    "encoding": {"x": {"field": "t", "type": "quantitative", "axis": null}, "y": {"field": "s", "type": "quantitative", "axis": null}, "color": {"field": "group", "type": "nominal"}}},
   {"data": {"name": "pv"}, "transform": [{"filter": "datum.panel == 'Stage'"}], "mark": {"type": "text", "align": "right", "baseline": "middle", "fontSize": 10, "font": "DejaVu Sans", "color": "#222"},
    "encoding": {"x": {"datum": 158, "type": "quantitative", "axis": null}, "y": {"datum": 0.0, "type": "quantitative", "axis": null}, "text": {"field": "label"}}},
   {"data": {"name": "pv"}, "transform": [{"filter": "datum.panel == 'Stage'"}], "mark": {"type": "text", "align": "right", "baseline": "middle", "fontSize": 10, "font": "DejaVu Serif", "fontStyle": "italic", "dx": -49, "color": "#222"},
    "encoding": {"x": {"datum": 158, "type": "quantitative", "axis": null}, "y": {"datum": 0.0, "type": "quantitative", "axis": null}, "text": {"value": "P"}}}
  ]},
  {"width": 253, "height": 26, "title": "Number at risk", "data": {"name": "risk"}, "transform": [{"filter": "datum.panel == 'Stage'"}],
   "mark": {"type": "text", "fontSize": 8, "color": "#222"},
   "encoding": {"x": {"field": "t", "type": "quantitative", "scale": {"domain": [-8, 158], "nice": false, "zero": false}, "axis": {"values": [0,12,24,36,48,60,72,84,96,108,120,132,144], "labelOverlap": false, "title": "𝑡/mo", "tickSize": -5, "labelPadding": 11, "labelFontSize": 7.5, "titlePadding": 7, "titleFontSize": 11}},
    "y": {"field": "group", "type": "nominal", "scale": {"domain": ["0-ⅢA","ⅢB-ⅣB"]}, "axis": {"title": "Stage", "titleY": 16, "labelExpr": "'━━'", "labelColor": {"condition": {"test": "indexof(['No','< 24','< 40','0-ⅢA','R0'], datum.value) >= 0", "value": "#F8766D"}, "value": "#00BFC4"}, "ticks": false, "labelPadding": 2, "labelFontSize": 12.5, "labelFont": "DejaVu Sans", "titlePadding": 14}},
    "text": {"field": "n", "type": "quantitative"}}}
 ]}
], "spacing": 82, "resolve": {"scale": {"color": "independent"}, "legend": {"color": "independent"}}},
{"hconcat": [
 {"spacing": 0, "vconcat": [
  {"width": 253, "height": 216, "resolve": {"axis": {"x": "independent", "y": "independent"}}, "layer": [
   {"data": {"name": "km"}, "transform": [{"filter": "datum.panel == 'R'"}], "mark": {"type": "line", "interpolate": "step-after", "strokeWidth": 2},
    "encoding": {"x": {"field": "t", "type": "quantitative", "scale": {"domain": [-8, 158], "nice": false, "zero": false}, "axis": {"values": [0,12,24,36,48,60,72,84,96,108,120,132,144], "labelOverlap": false, "title": "𝑡/mo", "labelFont": "Liberation Serif", "tickSize": 3, "labelPadding": 2, "titlePadding": 3, "titleFontSize": 11}},
     "y": {"field": "s", "type": "quantitative", "scale": {"domain": [-0.055, 1.055], "nice": false, "zero": false}, "axis": {"values": [0,0.25,0.5,0.75,1], "format": ".2f", "title": "Survival probability", "tickSize": 3, "labelPadding": 2, "titlePadding": 10}},
     "color": {"field": "group", "type": "nominal", "scale": {"domain": ["R0","R1"], "range": ["#F8766D","#00BFC4"]}, "legend": {"title": "R", "orient": "none", "legendX": 175, "legendY": 0, "symbolType": "M-1,0L1,0M0,-0.4L0,0.4", "symbolSize": 144, "symbolStrokeWidth": 2, "rowPadding": 3, "titlePadding": 3, "labelOffset": 8}}}},
   {"data": {"name": "cens"}, "transform": [{"filter": "datum.panel == 'R'"}], "mark": {"type": "point", "shape": "M-1,0L1,0M0,-1L0,1", "filled": false, "size": 30, "strokeWidth": 1.2, "opacity": 1},
    "encoding": {"x": {"field": "t", "type": "quantitative", "axis": null}, "y": {"field": "s", "type": "quantitative", "axis": null}, "color": {"field": "group", "type": "nominal"}}},
   {"data": {"name": "pv"}, "transform": [{"filter": "datum.panel == 'R'"}], "mark": {"type": "text", "align": "right", "baseline": "middle", "fontSize": 10, "font": "DejaVu Sans", "color": "#222"},
    "encoding": {"x": {"datum": 158, "type": "quantitative", "axis": null}, "y": {"datum": 0.02, "type": "quantitative", "axis": null}, "text": {"field": "label"}}},
   {"data": {"name": "pv"}, "transform": [{"filter": "datum.panel == 'R'"}], "mark": {"type": "text", "align": "right", "baseline": "middle", "fontSize": 10, "font": "DejaVu Serif", "fontStyle": "italic", "dx": -49, "color": "#222"},
    "encoding": {"x": {"datum": 158, "type": "quantitative", "axis": null}, "y": {"datum": 0.02, "type": "quantitative", "axis": null}, "text": {"value": "P"}}}
  ]},
  {"width": 253, "height": 26, "title": {"text": "Number at risk", "offset": 7}, "data": {"name": "risk"}, "transform": [{"filter": "datum.panel == 'R'"}],
   "mark": {"type": "text", "fontSize": 8, "color": "#222"},
   "encoding": {"x": {"field": "t", "type": "quantitative", "scale": {"domain": [-8, 158], "nice": false, "zero": false}, "axis": {"values": [0,12,24,36,48,60,72,84,96,108,120,132,144], "labelOverlap": false, "title": "𝑡/mo", "tickSize": -5, "labelPadding": 11, "labelFontSize": 7.5, "titlePadding": 7, "titleFontSize": 11}},
    "y": {"field": "group", "type": "nominal", "scale": {"domain": ["R0","R1"]}, "axis": {"title": "R", "titleY": 11, "labelExpr": "'━━'", "labelColor": {"condition": {"test": "indexof(['No','< 24','< 40','0-ⅢA','R0'], datum.value) >= 0", "value": "#F8766D"}, "value": "#00BFC4"}, "ticks": false, "labelPadding": 2, "labelFontSize": 12.5, "labelFont": "DejaVu Sans", "titlePadding": 14}},
    "text": {"field": "n", "type": "quantitative"}}}
 ]}
], "spacing": 82, "resolve": {"scale": {"color": "independent"}, "legend": {"color": "independent"}}}
]
}
